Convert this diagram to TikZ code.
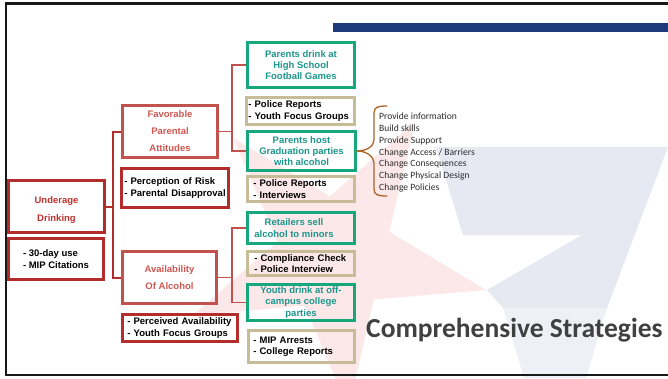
\documentclass[tikz,border=0pt]{standalone}
\usepackage{fontspec}
\setmainfont{Liberation Sans}
\newfontfamily\calfont{Carlito}
\definecolor{dred}{RGB}{180,45,45}
\definecolor{lred}{RGB}{194,82,78}
\definecolor{dtxt}{RGB}{192,50,45}
\definecolor{ltxt}{RGB}{206,88,82}
\definecolor{gbord}{RGB}{22,168,124}
\definecolor{gtxt}{RGB}{28,150,140}
\definecolor{tan}{RGB}{198,188,152}
\definecolor{brown}{RGB}{172,100,40}
\definecolor{navy}{RGB}{30,58,122}
\definecolor{pinkbg}{RGB}{252,232,232}
\definecolor{greybg}{RGB}{230,233,242}
\definecolor{greybgl}{RGB}{238,240,246}
\definecolor{titlegrey}{RGB}{64,64,64}
\definecolor{listgrey}{RGB}{45,45,45}
\tikzset{
  box/.style={draw, inner ysep=0pt, align=center},
  underbox/.style={box, draw=dred, line width=3pt, text=dtxt,
    font=\bfseries\fontsize{9.5}{18}\selectfont},
  factorbox/.style={box, draw=lred, line width=2.6pt, text=ltxt,
    font=\bfseries\fontsize{9.5}{17}\selectfont},
  measure/.style={box, line width=2.6pt, text=black, align=left,
    font=\bfseries\fontsize{9.5}{11.5}\selectfont},
  redlist/.style={measure, draw=dred},
  tanlist/.style={measure, draw=tan},
  greenbox/.style={box, draw=gbord, line width=2.6pt, text=gtxt,
    font=\bfseries\fontsize{9.5}{11.2}\selectfont},
  trunk/.style={draw=dred, line width=2pt},
  branch/.style={draw=lred, line width=1.6pt},
  bracepath/.style={draw=brown, line width=1.3pt, line cap=round},
}
\begin{document}
\begin{tikzpicture}[x=1pt,y=-1pt]
\useasboundingbox (0,0) rectangle (668,378);
\fill[white] (0,0) rectangle (668,378);

% faint background stars
\fill[pinkbg] (486,290) -- (389.3,231.9) -- (414.8,122.1) -- (329.9,196.2)
  -- (233.3,138) -- (277.5,241.7) -- (192.3,315.6) -- (304.6,305.6)
  -- (348.5,409.4) -- (373.7,299.5) -- cycle;
\fill[greybg] (436,147) -- (668,147) -- (607,308) -- (503,308) -- (487,290)
  -- (582,235) -- (463,235) -- cycle;
\fill[greybgl] (503,308) -- (607,308) -- (586,378) -- (524,378) -- cycle;

% header bar and slide frame
\fill[navy] (333,23) rectangle (668,32);
\draw[line width=2.5pt, black!90] (700,3.7) -- (5.8,3.7) -- (5.8,375) -- (700,375);

% problem and its indicators
\node[underbox, minimum width=96pt, minimum height=52pt] (under) at (56.5,206.5) {\rule{0pt}{15pt}Underage\\Drinking};
\node[redlist, draw=dred, line width=3pt, minimum width=95pt, minimum height=41pt] (mip) at (56,259) {- 30-day use\\- MIP Citations};

% contributing factors
\node[factorbox, minimum width=95.4pt, minimum height=52.4pt] (fav) at (170,131.5) {Favorable\\Parental\\Attitudes};
\node[redlist, inner xsep=3pt, text width=101.4pt, minimum height=39.4pt] (perc) at (175,188) {- Perception of Risk\\- Parental Disapproval};
\node[factorbox, minimum width=94.4pt, minimum height=52.4pt] (avail) at (169.5,277.5) {Availability\\Of Alcohol};
\node[redlist, inner xsep=5pt, text width=105.4pt, minimum height=27.4pt] (perv) at (180,328) {- Perceived Availability\\- Youth Focus Groups};

% local conditions and their data sources
\node[greenbox, minimum width=107.4pt, minimum height=45.4pt] (g1) at (301,65) {Parents drink at\\High School\\Football Games};
\node[tanlist, inner xsep=2pt, text width=104.4pt, minimum height=27.4pt] (t1) at (300.5,111) {- Police Reports\\- Youth Focus Groups};
\node[greenbox, minimum width=108.4pt, minimum height=39.4pt] (g2) at (301.5,151) {Parents host\\Graduation parties\\with alcohol};
\node[tanlist, inner xsep=6pt, text width=95.4pt, minimum height=25.4pt] (t2) at (301,189) {- Police Reports\\- Interviews};
\node[greenbox, minimum width=107.4pt, minimum height=31.4pt] (g3) at (301,228) {Retailers sell\hspace*{14pt}\\alcohol to minors\hspace*{14pt}};
\node[tanlist, inner xsep=7pt, text width=93.4pt, minimum height=24.4pt] (t3) at (301,263.5) {- Compliance Check\\- Police Interview};
\node[greenbox, minimum width=107.4pt, minimum height=36.4pt] (g4) at (301,302.5) {Youth drink at off-\\campus college\\parties};
\node[tanlist, inner xsep=5pt, text width=96.4pt, minimum height=32.4pt] (t4) at (301.5,346.5) {- MIP Arrests\\- College Reports};

% connectors
\draw[trunk] (under.east) -- ++(7,0) |- (fav.west);
\draw[trunk] (under.east) -- ++(7,0) |- (avail.west);
\draw[branch] (fav.east) -- ++(13,0) |- (g1.west);
\draw[branch] (fav.east) -- ++(13,0) |- (g2.west);
\draw[branch] (avail.east) -- ++(14,0) |- (g3.west);
\draw[branch] (avail.east) -- ++(14,0) |- (g4.west);

% brace gathering the strategies
\draw[bracepath] (g2.east) .. controls ++(10,0) and (374,146) .. (374,140)
  -- (374,113) .. controls (374,107) and (378,106) .. (387,106);
\draw[bracepath] (g2.east) .. controls ++(10,0) and (374,157) .. (374,163)
  -- (374,189) .. controls (374,195) and (378,196) .. (387,196);

\node[anchor=west, inner sep=0pt, align=left, text=listgrey,
  font=\calfont\fontsize{9.6}{11.7}\selectfont] (strat) at (379,152.5)
  {Provide information\\Build skills\\Provide Support\\Change Access / Barriers\\Change Consequences\\Change Physical Design\\Change Policies};

\node[anchor=base west, inner sep=0pt, text=titlegrey,
  font=\calfont\bfseries\fontsize{27.5}{30}\selectfont] (title) at (366,337) {Comprehensive Strategies};
\end{tikzpicture}
\end{document}
